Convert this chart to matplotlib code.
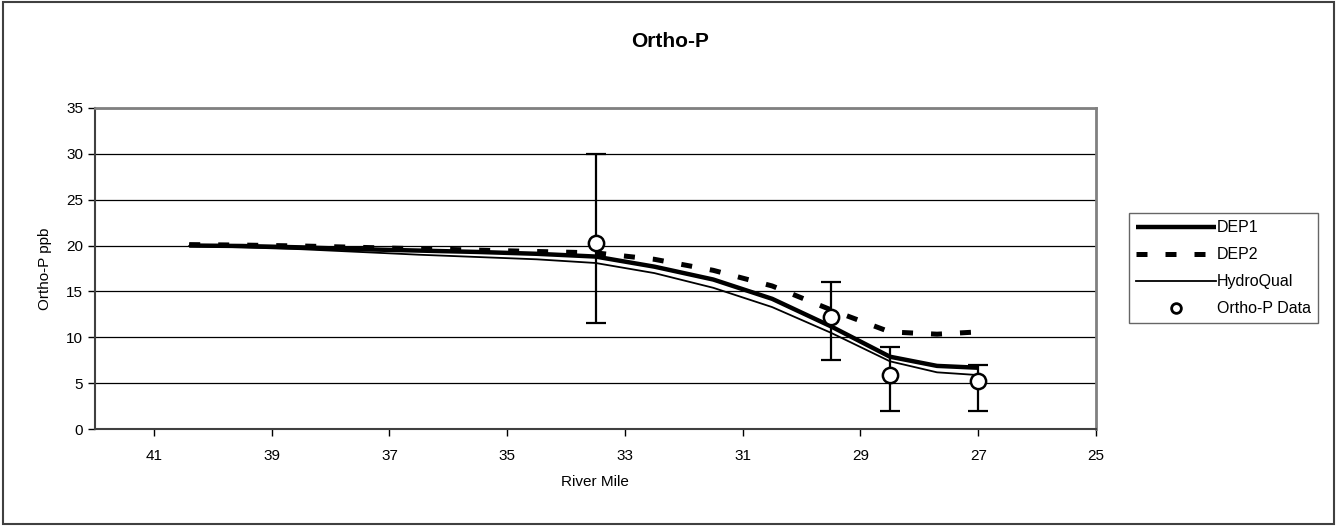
import numpy as np
import matplotlib
matplotlib.use("Agg")
import matplotlib.pyplot as plt
from matplotlib.patches import Rectangle

plt.rcParams['font.family'] = ['Liberation Sans', 'DejaVu Sans']

# model output along the river
model_mile = [40.4, 39.5, 38.5, 37.5, 36.5, 35.5, 34.5, 33.5, 32.5, 31.5, 30.5, 29.5, 28.5, 27.7, 27.0]
dep1 = [20.0, 19.95, 19.8, 19.6, 19.45, 19.3, 19.1, 18.8, 17.7, 16.3, 14.2, 11.2, 7.9, 6.9, 6.7]
dep2 = [20.1, 20.05, 19.95, 19.8, 19.65, 19.5, 19.35, 19.2, 18.5, 17.3, 15.6, 13.0, 10.6, 10.35, 10.6]
hydroqual = [19.95, 19.8, 19.6, 19.3, 19.0, 18.75, 18.5, 18.1, 17.0, 15.4, 13.3, 10.5, 7.4, 6.2, 5.9]

# observed data with min / max
obs_mile = [33.5, 29.5, 28.5, 27.0]
obs_mean = [20.3, 12.2, 5.9, 5.3]
obs_min = [11.6, 7.5, 2.0, 2.0]
obs_max = [30.0, 16.0, 9.0, 7.0]

xticks = [41, 39, 37, 35, 33, 31, 29, 27, 25]
yticks = [0, 5, 10, 15, 20, 25, 30, 35]

fig = plt.figure(figsize=(13.38, 5.26), dpi=100)
ax = fig.add_axes([95 / 1338, 1 - 429.3 / 526, (1096 - 95) / 1338, (429.3 - 107.7) / 526])

# outer chart border
fig.patches.append(Rectangle((0.002, 0.003), 0.995, 0.993, transform=fig.transFigure,
                             fill=False, edgecolor='#404040', linewidth=1.5))

ax.plot(model_mile, dep1, color='black', lw=3.2, solid_capstyle='butt', label='DEP1', zorder=3)
ax.plot(model_mile, dep2, color='black', lw=3.6, dashes=(2.2, 3.6), dash_capstyle='butt',
        label='DEP2', zorder=3)
ax.plot(model_mile, hydroqual, color='black', lw=1.3, label='HydroQual', zorder=3)

obs_mean = np.array(obs_mean)
yerr = [obs_mean - np.array(obs_min), np.array(obs_max) - obs_mean]
ax.errorbar(obs_mile, obs_mean, yerr=yerr, fmt='none', ecolor='black', elinewidth=1.6,
            capsize=7, capthick=1.6, zorder=4)
ax.plot(obs_mile, obs_mean, 'o', markersize=11, markerfacecolor='white', markeredgecolor='black',
        markeredgewidth=1.8, linestyle='none', label='Ortho-P Data', zorder=5)

ax.set_xlim(42, 25)
ax.set_ylim(0, 35)
ax.set_xticks(xticks)
ax.set_yticks(yticks)
ax.tick_params(axis='both', direction='out', length=5, width=1, labelsize=11, colors='black')
ax.tick_params(axis='x', pad=9)
ax.grid(axis='y', color='black', linewidth=0.9)
ax.set_axisbelow(True)

for side in ['top', 'right']:
    ax.spines[side].set_color('#808080')
    ax.spines[side].set_linewidth(2)
for side in ['left', 'bottom']:
    ax.spines[side].set_color('#404040')
    ax.spines[side].set_linewidth(1.5)

ax.set_ylabel('Ortho-P ppb', fontsize=11, labelpad=10)
fig.text(595 / 1338, 1 - 482 / 526, 'River Mile', ha='center', va='center', fontsize=11)
fig.text(670 / 1338, 1 - 41 / 526, 'Ortho-P', ha='center', va='center', fontsize=15, fontweight='bold')

leg = fig.legend(loc='upper left', bbox_to_anchor=(1129 / 1338, 1 - 213 / 526), fontsize=11.5,
                 handlelength=5.0, handletextpad=0.05, borderpad=0.45, labelspacing=0.75,
                 borderaxespad=0, frameon=True, fancybox=False)
leg.get_frame().set_edgecolor('#404040')
leg.get_frame().set_linewidth(1)
for h in leg.legend_handles:
    if h.get_label() == 'Ortho-P Data':
        h.set_markersize(7)
        h.set_markeredgewidth(2)

fig.savefig('out.png', dpi=100)
